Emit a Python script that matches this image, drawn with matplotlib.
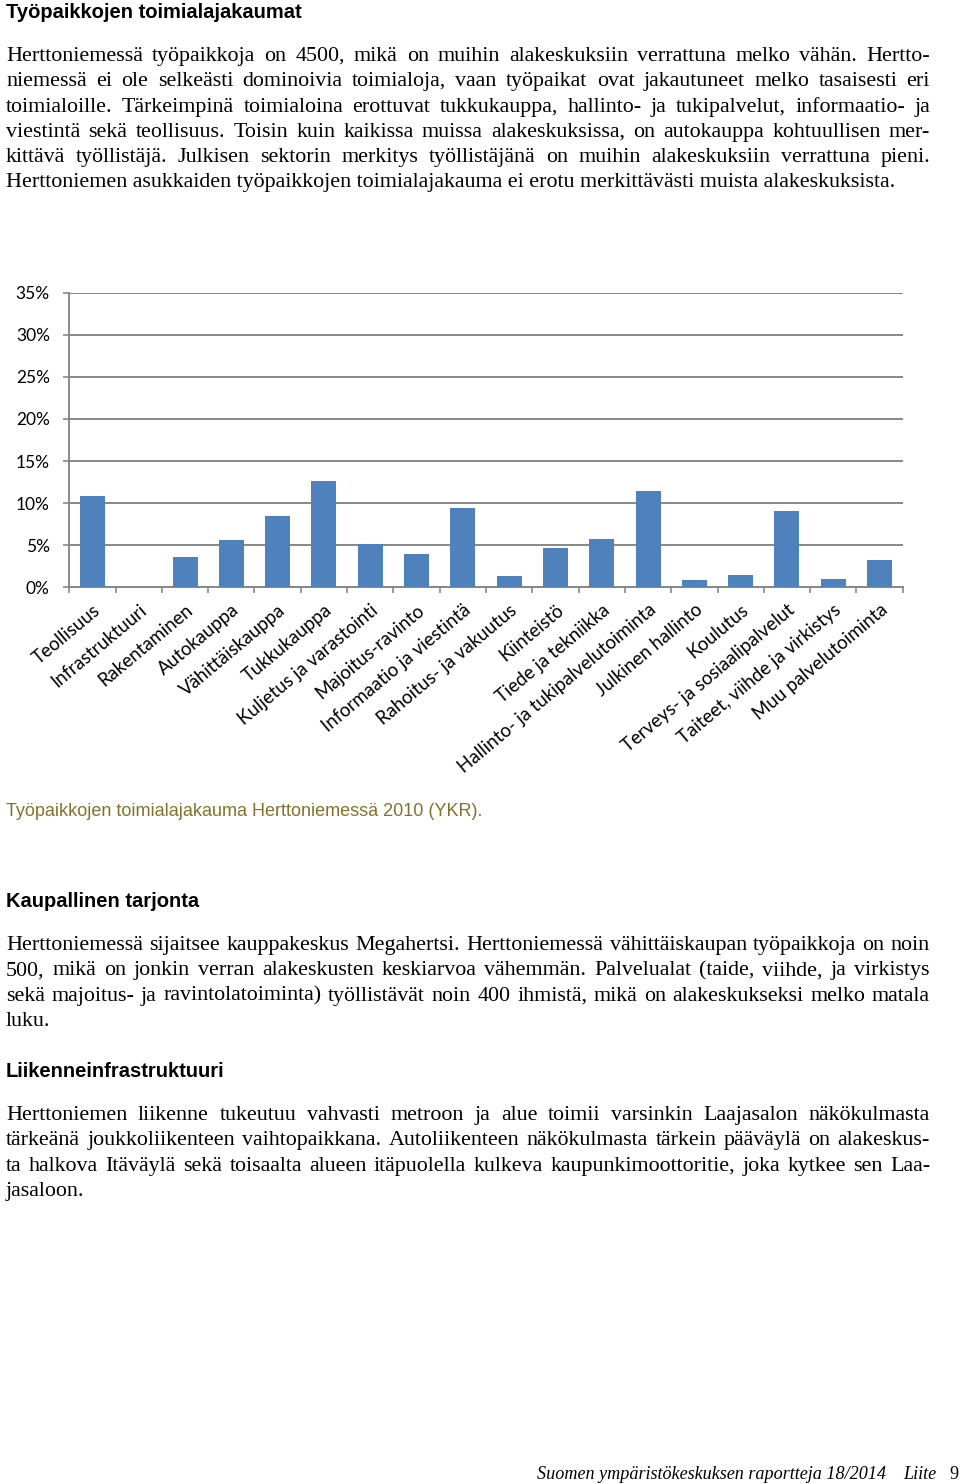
import matplotlib
matplotlib.use('Agg')
import matplotlib.pyplot as plt
from matplotlib.ticker import FixedLocator

# Chart data: share of jobs per industry, Herttoniemi 2010 (YKR)
categories = [
    'Teollisuus', 'Infrastruktuuri', 'Rakentaminen', 'Autokauppa',
    'Vähittäiskauppa', 'Tukkukauppa', 'Kuljetus ja varastointi',
    'Majoitus-ravinto', 'Informaatio ja viestintä', 'Rahoitus- ja vakuutus',
    'Kiinteistö', 'Tiede ja tekniikka', 'Hallinto- ja tukipalvelutoiminta',
    'Julkinen hallinto', 'Koulutus', 'Terveys- ja sosiaalipalvelut',
    'Taiteet, viihde ja virkistys', 'Muu palvelutoiminta',
]
shares = [10.9, 0.0, 3.6, 5.6, 8.5, 12.6, 5.1, 4.0, 9.4, 1.4,
          4.7, 5.7, 11.5, 0.9, 1.5, 9.1, 1.0, 3.3]
y_ticks = [0, 5, 10, 15, 20, 25, 30, 35]
y_tick_labels = ['0%', '5%', '10%', '15%', '20%', '25%', '30%', '35%']

# Page text
heading1 = 'Työpaikkojen toimialajakaumat'
para1 = [
    'Herttoniemessä työpaikkoja on 4500, mikä on muihin alakeskuksiin verrattuna melko vähän. Hertto-',
    'niemessä ei ole selkeästi dominoivia toimialoja, vaan työpaikat ovat jakautuneet melko tasaisesti eri',
    'toimialoille. Tärkeimpinä toimialoina erottuvat tukkukauppa, hallinto- ja tukipalvelut, informaatio- ja',
    'viestintä sekä teollisuus. Toisin kuin kaikissa muissa alakeskuksissa, on autokauppa kohtuullisen mer-',
    'kittävä työllistäjä. Julkisen sektorin merkitys työllistäjänä on muihin alakeskuksiin verrattuna pieni.',
    'Herttoniemen asukkaiden työpaikkojen toimialajakauma ei erotu merkittävästi muista alakeskuksista.',
]
caption = 'Työpaikkojen toimialajakauma Herttoniemessä 2010 (YKR).'
heading2 = 'Kaupallinen tarjonta'
para2 = [
    'Herttoniemessä sijaitsee kauppakeskus Megahertsi. Herttoniemessä vähittäiskaupan työpaikkoja on noin',
    '500, mikä on jonkin verran alakeskusten keskiarvoa vähemmän. Palvelualat (taide, viihde, ja virkistys',
    'sekä majoitus- ja ravintolatoiminta) työllistävät noin 400 ihmistä, mikä on alakeskukseksi melko matala',
    'luku.',
]
heading3 = 'Liikenneinfrastruktuuri'
para3 = [
    'Herttoniemen liikenne tukeutuu vahvasti metroon ja alue toimii varsinkin Laajasalon näkökulmasta',
    'tärkeänä joukkoliikenteen vaihtopaikkana. Autoliikenteen näkökulmasta tärkein pääväylä on alakeskus-',
    'ta halkova Itäväylä sekä toisaalta alueen itäpuolella kulkeva kaupunkimoottoritie, joka kytkee sen Laa-',
    'jasaloon.',
]
footer = 'Suomen ympäristökeskuksen raportteja 18/2014'
footer_right = ['Liite', '9']

W, H = 960, 1484
X0, X1 = 6, 930
BAR = '#4F81BD'
GRID = '#878787'

fig = plt.figure(figsize=(W / 100, H / 100), dpi=100)
fig.patch.set_facecolor('white')
renderer = fig.canvas.get_renderer()


def fx(x):
    return x / W


def fy(y):
    return 1 - y / H


def text_width(s, **kw):
    t = fig.text(0, 0, s, **kw)
    w = t.get_window_extent(renderer).width
    t.remove()
    return w


def fit_size(s, target, **kw):
    return 10 * target / text_width(s, fontsize=10, **kw)


serif = dict(family='Liberation Serif')
body_size = fit_size(para1[-1], 894, **serif)


def put_line(s, y, justify=True):
    words = s.split()
    if not justify or len(words) < 2:
        fig.text(fx(X0), fy(y), s, fontsize=body_size, va='baseline', **serif)
        return
    widths = [text_width(w, fontsize=body_size, **serif) for w in words]
    gap = (X1 - X0 - sum(widths)) / (len(words) - 1)
    x = X0
    for w, wd in zip(words, widths):
        fig.text(fx(x), fy(y), w, fontsize=body_size, va='baseline', **serif)
        x += wd + gap


def put_paragraph(lines, y0, step=25.3):
    for i, line in enumerate(lines):
        put_line(line, y0 + i * step, justify=(i < len(lines) - 1))


head = dict(family='Liberation Sans', weight='bold')
hsize = fit_size(heading1, 295, **head)
fig.text(fx(X0), fy(18), heading1, fontsize=hsize, va='baseline', **head)
put_paragraph(para1, 61)

fig.text(fx(X0), fy(907), heading2, fontsize=hsize, va='baseline', **head)
put_paragraph(para2, 950)

fig.text(fx(X0), fy(1077), heading3, fontsize=hsize, va='baseline', **head)
put_paragraph(para3, 1120)

csize = fit_size(caption, 477, family='Liberation Sans')
fig.text(fx(X0), fy(816), caption, fontsize=csize, va='baseline',
         family='Liberation Sans', color='#857128')

fsize = fit_size(footer, 349, family='Liberation Serif', style='italic')
fig.text(fx(537), fy(1479), footer, fontsize=fsize, va='baseline',
         family='Liberation Serif', style='italic')
fig.text(fx(903), fy(1479), footer_right[0], fontsize=fsize, va='baseline',
         family='Liberation Serif', style='italic')
fig.text(fx(958), fy(1479), footer_right[1], fontsize=fsize, va='baseline',
         ha='right', family='Liberation Serif')

# Bar chart
ax = fig.add_axes([fx(69.3), fy(587.3), 833.4 / W, 294.6 / H])
x = list(range(len(categories)))
ax.bar(x, shares, width=0.54, color=BAR, zorder=3)
ax.set_xlim(-0.5, len(categories) - 0.5)
ax.set_ylim(0, 35)

ax.set_yticks(y_ticks)
ax.set_yticklabels(y_tick_labels, family='Lato', fontsize=12.5)
ax.yaxis.grid(True, color=GRID, linewidth=1.4, zorder=0)
ax.tick_params(axis='y', length=4.5, width=1.2, color=GRID, pad=9.5)

ax.set_xticks(x)
ax.set_xticklabels(categories, rotation=40, ha='right', rotation_mode='anchor',
                   family='Lato', fontsize=13.4)
ax.tick_params(axis='x', which='major', length=0, pad=10)
ax.xaxis.set_minor_locator(FixedLocator([i - 0.5 for i in range(len(categories) + 1)]))
ax.tick_params(axis='x', which='minor', length=4.5, width=1.2, color=GRID)

for side in ['top', 'right']:
    ax.spines[side].set_visible(False)
for side in ['left', 'bottom']:
    ax.spines[side].set_color(GRID)
    ax.spines[side].set_linewidth(1.4)

fig.savefig('out.png', dpi=100, facecolor='white')
